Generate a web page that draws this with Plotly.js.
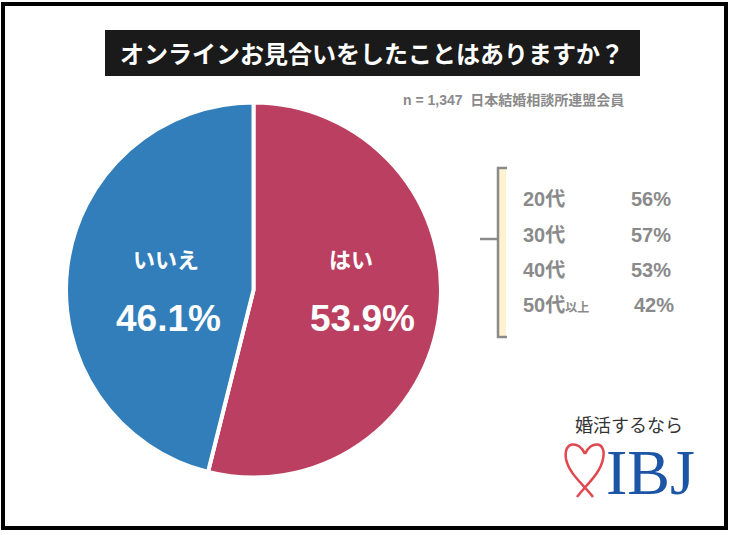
<!DOCTYPE html>
<html><head><meta charset="utf-8">
<script src="https://cdn.plot.ly/plotly-3.0.1.min.js"></script>
<style>html,body{margin:0;padding:0;background:#fff;}#chart{width:730px;height:535px;}</style>
</head><body><div id="chart"></div>
<script>
const pieLabels = ['はい', 'いいえ'];
const pieValues = [53.9, 46.1];
const pieColors = ['#BB3F60', '#317EBA'];
const ageLabels = ['20代', '30代', '40代', '50代'];
const ageSuffix = ['', '', '', '以上'];
const ageValues = [56, 57, 53, 42];
const titleText = 'オンラインお見合いをしたことはありますか？';
const noteText = 'n = 1,347  日本結婚相談所連盟会員';

const W = 730, H = 535;
const px = x => x / W, py = y => 1 - y / H;
const P = (x, y) => px(x) + ',' + py(y);
const FONT = '"Noto Sans CJK JP", "Noto Sans", sans-serif';
const LFONT = '"Liberation Sans", Arial, "Noto Sans CJK JP", sans-serif';
const GRAY = '#8a8a8a';

const pieTrace = {
  type: 'pie', labels: pieLabels, values: pieValues, sort: false,
  direction: 'clockwise', rotation: 0,
  marker: {colors: pieColors, line: {color: '#fff', width: 4}},
  textinfo: 'none', hoverinfo: 'none', showlegend: false,
  domain: {x: [px(66), px(441)], y: [py(478), py(102)]}
};

const shapes = [
  {type: 'rect', xref: 'paper', yref: 'paper', x0: px(3), x1: px(726), y0: py(528), y1: py(4), line: {color: '#000', width: 4}},
  {type: 'rect', xref: 'paper', yref: 'paper', x0: px(105), x1: px(640), y0: py(76), y1: py(30), fillcolor: '#1a1a1a', line: {width: 0}},
  {type: 'rect', xref: 'paper', yref: 'paper', x0: px(499), x1: px(506), y0: py(337), y1: py(168), fillcolor: '#FFF2CF', line: {width: 0}},
  {type: 'path', xref: 'paper', yref: 'paper', path: 'M' + P(507, 168) + 'L' + P(498, 168) + 'L' + P(498, 337) + 'L' + P(507, 337), line: {color: GRAY, width: 2.5}},
  {type: 'line', xref: 'paper', yref: 'paper', x0: px(480), x1: px(498), y0: py(239), y1: py(239), line: {color: GRAY, width: 2.5}},
  {type: 'path', xref: 'paper', yref: 'paper',
   path: 'M' + P(585, 454) + 'C' + P(579, 440) + ' ' + P(563, 441) + ' ' + P(566, 459) +
         'C' + P(569, 474) + ' ' + P(584, 485) + ' ' + P(593, 497) +
         'M' + P(585, 454) + 'C' + P(591, 440) + ' ' + P(607, 441) + ' ' + P(603, 459) +
         'C' + P(600, 474) + ' ' + P(586, 485) + ' ' + P(577, 497),
   line: {color: '#E0474F', width: 2.5}}
];

const annotations = [
  {text: '<b>' + titleText + '</b>', x: px(372), y: py(53), font: {size: 24, color: '#fff', family: FONT}},
  {text: '<b>' + noteText + '</b>', x: px(626), y: py(100), xanchor: 'right', font: {size: 14, color: GRAY, family: LFONT}},
  {text: '<b>' + pieLabels[0] + '</b>', x: px(351), y: py(258), font: {size: 22, color: '#fff', family: FONT}},
  {text: '<b>' + pieValues[0].toFixed(1) + '%</b>', x: px(362), y: py(318), font: {size: 37, color: '#fff', family: LFONT}},
  {text: '<b>' + pieLabels[1] + '</b>', x: px(166), y: py(258), font: {size: 22, color: '#fff', family: FONT}},
  {text: '<b>' + pieValues[1].toFixed(1) + '%</b>', x: px(168), y: py(318), font: {size: 37, color: '#fff', family: LFONT}},
  {text: '婚活するなら', x: px(629), y: py(424), font: {size: 18, color: '#333', family: FONT}},
  {text: 'IBJ', x: px(650), y: py(472), font: {size: 64, color: '#1C55A5', family: '"Liberation Serif", "DejaVu Serif", serif'}}
];
const rowY = [199, 235, 270, 305];
ageLabels.forEach((l, i) => {
  const suffix = ageSuffix[i] ? '<span style="font-size:12px">' + ageSuffix[i] + '</span>' : '';
  annotations.push({text: '<b>' + l + suffix + '</b>', x: px(521), y: py(rowY[i]), xanchor: 'left', font: {size: 20, color: GRAY, family: LFONT}});
  annotations.push({text: '<b>' + ageValues[i] + '%</b>', x: px(i === 3 ? 676 : 673), y: py(rowY[i]), xanchor: 'right', font: {size: 20, color: GRAY, family: LFONT}});
});
annotations.forEach(a => { a.xref = 'paper'; a.yref = 'paper'; a.showarrow = false; if (!a.xanchor) a.xanchor = 'center'; a.yanchor = 'middle'; });

Plotly.newPlot('chart', [pieTrace], {
  width: W, height: H, margin: {l: 0, r: 0, t: 0, b: 0},
  paper_bgcolor: '#fff', plot_bgcolor: '#fff',
  shapes: shapes, annotations: annotations, showlegend: false
}, {staticPlot: true});
</script></body></html>
